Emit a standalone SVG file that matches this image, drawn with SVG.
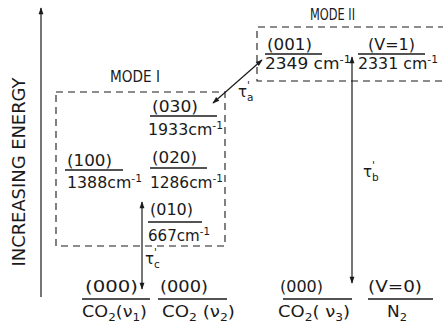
<svg xmlns="http://www.w3.org/2000/svg" width="443" height="329" viewBox="0 0 443 329">
<style>
text{font-family:"DejaVu Sans","Liberation Sans",Arial,sans-serif;font-size:15.5px;fill:#1a1a1a}
.lvl{stroke:#1a1a1a;stroke-width:1.3}
.box{fill:none;stroke:#1a1a1a;stroke-width:1.1;stroke-dasharray:7 5}
.arr{stroke:#1a1a1a;stroke-width:1.2;fill:none}
.sm{font-size:10.5px}
.tl{font-size:15px}
</style>
<defs>
<marker id="ah" viewBox="0 0 10 10" refX="9" refY="5" markerWidth="8" markerHeight="7" orient="auto-start-reverse" markerUnits="userSpaceOnUse"><path d="M0,1.5 L10,5 L0,8.5 z" fill="#1a1a1a"/></marker>
</defs>
<rect width="443" height="329" fill="#fff"/>

<g id="axis-label">
<text transform="translate(25,172) rotate(-90)" text-anchor="middle" style="font-size:17px" textLength="189" lengthAdjust="spacingAndGlyphs">INCREASING ENERGY</text>
</g>

<g id="mode1">
<text x="110" y="82" textLength="50" lengthAdjust="spacingAndGlyphs">MODE I</text>
<rect class="box" x="56" y="92" width="169" height="154"/>
</g>
<g id="mode2">
<text x="310" y="20" textLength="45" lengthAdjust="spacingAndGlyphs">MODE II</text>
<path class="box" d="M445,27 H257 V81 H445"/>
</g>

<g id="l030">
<text x="152" y="112" textLength="46" lengthAdjust="spacingAndGlyphs">(030)</text>
<line class="lvl" x1="150" y1="116" x2="217" y2="116"/>
<text x="148" y="135" textLength="75" lengthAdjust="spacingAndGlyphs">1933cm<tspan class="sm" dy="-6">-1</tspan></text>
</g>
<g id="l100">
<text x="67" y="166" textLength="45" lengthAdjust="spacingAndGlyphs">(100)</text>
<line class="lvl" x1="65" y1="170" x2="123" y2="170"/>
<text x="67" y="188" textLength="75" lengthAdjust="spacingAndGlyphs">1388cm<tspan class="sm" dy="-6">-1</tspan></text>
</g>
<g id="l020">
<text x="152" y="163" textLength="45" lengthAdjust="spacingAndGlyphs">(020)</text>
<line class="lvl" x1="150" y1="168" x2="207" y2="168"/>
<text x="150" y="188" textLength="73" lengthAdjust="spacingAndGlyphs">1286cm<tspan class="sm" dy="-6">-1</tspan></text>
</g>
<g id="l010">
<text x="150" y="215" textLength="43" lengthAdjust="spacingAndGlyphs">(010)</text>
<line class="lvl" x1="148" y1="222" x2="202" y2="222"/>
<text x="148" y="241" textLength="62" lengthAdjust="spacingAndGlyphs">667cm<tspan class="sm" dy="-6">-1</tspan></text>
</g>

<g id="l001">
<text x="267" y="50" textLength="45" lengthAdjust="spacingAndGlyphs">(001)</text>
<line class="lvl" x1="265" y1="54" x2="322" y2="54"/>
<text x="265" y="69" textLength="86" lengthAdjust="spacingAndGlyphs">2349 cm<tspan class="sm" dy="-6">-1</tspan></text>
</g>
<g id="lv1">
<text x="368" y="50" textLength="47" lengthAdjust="spacingAndGlyphs">(V=1)</text>
<line class="lvl" x1="358" y1="54" x2="425" y2="54"/>
<text x="358" y="69" textLength="80" lengthAdjust="spacingAndGlyphs">2331 cm<tspan class="sm" dy="-6">-1</tspan></text>
</g>

<g id="g1">
<text x="85" y="292" textLength="53" lengthAdjust="spacingAndGlyphs">(000)</text>
<line class="lvl" x1="82" y1="299" x2="150" y2="299"/>
<text x="82" y="317" textLength="65" lengthAdjust="spacingAndGlyphs">CO<tspan class="sm" dy="4">2</tspan><tspan dy="-4">(ν</tspan><tspan class="sm" dy="4">1</tspan><tspan dy="-4">)</tspan></text>
</g>
<g id="g2">
<text x="160" y="292" textLength="48" lengthAdjust="spacingAndGlyphs">(000)</text>
<line class="lvl" x1="158" y1="299" x2="227" y2="299"/>
<text x="162" y="317" textLength="73" lengthAdjust="spacingAndGlyphs">CO<tspan class="sm" dy="4">2</tspan><tspan dy="-4"> (ν</tspan><tspan class="sm" dy="4">2</tspan><tspan dy="-4">)</tspan></text>
</g>
<g id="g3">
<text x="280" y="292" textLength="43" lengthAdjust="spacingAndGlyphs">(000)</text>
<line class="lvl" x1="283" y1="299" x2="352" y2="299"/>
<text x="278" y="317" textLength="72" lengthAdjust="spacingAndGlyphs">CO<tspan class="sm" dy="4">2</tspan><tspan dy="-4">( ν</tspan><tspan class="sm" dy="4">3</tspan><tspan dy="-4">)</tspan></text>
</g>
<g id="n2">
<text x="368" y="292" textLength="54" lengthAdjust="spacingAndGlyphs">(V=0)</text>
<line class="lvl" x1="368" y1="299" x2="433" y2="299"/>
<text x="387" y="317" textLength="20" lengthAdjust="spacingAndGlyphs">N<tspan class="sm" dy="4">2</tspan></text>
</g>

<g id="connectors">
<line class="arr" x1="41" y1="297" x2="41" y2="8" marker-end="url(#ah)"/>
<line class="arr" x1="213" y1="103" x2="262" y2="60" marker-start="url(#ah)" marker-end="url(#ah)"/>
<line class="arr" x1="352" y1="57" x2="352" y2="283" marker-start="url(#ah)" marker-end="url(#ah)"/>
<line class="arr" x1="142" y1="202" x2="142" y2="289" marker-start="url(#ah)" marker-end="url(#ah)"/>
<text class="tl" x="238" y="97">τ<tspan class="sm" dy="-8">'</tspan><tspan class="sm" dx="-3" dy="12">a</tspan></text>
<text class="tl" x="363" y="177">τ<tspan class="sm" dy="-8">'</tspan><tspan class="sm" dx="-3" dy="12">b</tspan></text>
<text class="tl" x="145" y="264">τ<tspan class="sm" dy="-8">'</tspan><tspan class="sm" dx="-3" dy="12">c</tspan></text>
</g>
</svg>
